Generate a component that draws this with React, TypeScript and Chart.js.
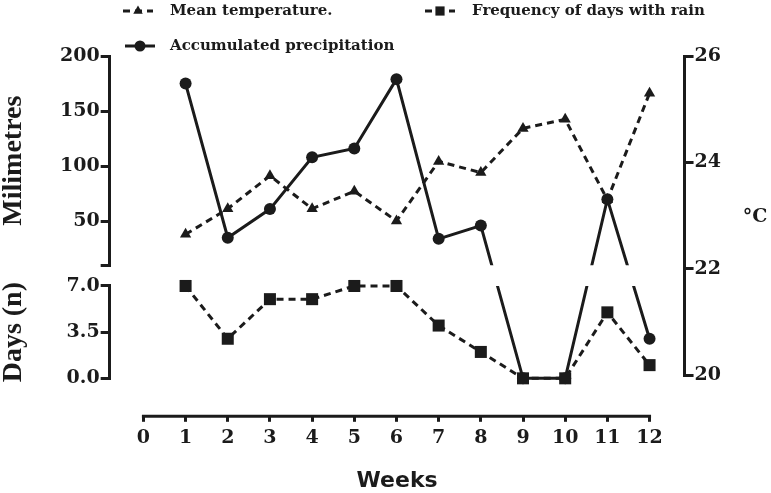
import React, { useEffect, useRef } from 'react';
import { Chart, registerables, LinearScale } from 'chart.js';

// ---------------- data ----------------
const weeks = [1, 2, 3, 4, 5, 6, 7, 8, 9, 10, 11, 12];
const weekTicks = [0, 1, 2, 3, 4, 5, 6, 7, 8, 9, 10, 11, 12];
const meanTemperature = [22.65, 23.13, 23.75, 23.13, 23.46, 22.9, 24.02, 23.81, 24.64, 24.81, 23.3, 25.3];
const rainDays = [7, 3, 6, 6, 7, 7, 4, 2, 0, 0, 5, 1];
const precipitation = [175, 35, 61, 108, 116, 179, 34, 46, 0, 0, 70, 3];
const mmTicks = [10, 50, 100, 150, 200];
const daysTicks = [0, 3.5, 7];
const tempTicks = [20, 22, 24, 26];
const seriesLabels = ['Mean temperature.', 'Frequency of days with rain', 'Accumulated precipitation'];

const INK = '#1b1b1b';

// Broken left axis: lower segment shares the days scale, upper segment the millimetre scale
class BrokenScale extends LinearScale {
  static id = 'brokenLinear';
  static defaults = {};
  getPixelForValue(value: number) {
    const scales = (this as any).chart.scales;
    const upper = scales.yMm;
    const lower = scales.yDays;
    if (value <= lower.max) return lower.getPixelForValue(value);
    if (value >= upper.min) return upper.getPixelForValue(value);
    const p0 = lower.getPixelForValue(lower.max);
    const p1 = upper.getPixelForValue(upper.min);
    return p0 + ((value - lower.max) / (upper.min - lower.max)) * (p1 - p0);
  }
}

Chart.register(...registerables, BrokenScale as any);

const tickFont = { family: '"DejaVu Serif", serif', size: 19, weight: 'bold' as const };
const xTickFont = { family: '"DejaVu Serif", serif', size: 19, weight: 'bold' as const, lineHeight: 1 };
const titleFont = { family: '"Liberation Serif", "Times New Roman", serif', size: 28, weight: 'bold' as const, lineHeight: 1 };

function drawMarker(ctx: CanvasRenderingContext2D, style: string, x: number, y: number, r: number) {
  ctx.beginPath();
  if (style === 'triangle') {
    ctx.moveTo(x, y - r);
    ctx.lineTo(x + r * 0.866, y + r * 0.5);
    ctx.lineTo(x - r * 0.866, y + r * 0.5);
    ctx.closePath();
  } else if (style === 'rect') {
    const s = r * Math.SQRT1_2;
    ctx.rect(x - s, y - s, 2 * s, 2 * s);
  } else {
    ctx.arc(x, y, r, 0, Math.PI * 2);
  }
  ctx.fill();
}

const legendSlots = [
  { x: 123, y: 11, textX: 170 },
  { x: 425, y: 11, textX: 472 },
  { x: 125, y: 46, textX: 170 },
];

const decorPlugin = {
  id: 'decor',
  beforeDatasetDraw(chart: any, args: any) {
    if (chart.data.datasets[args.index]?.yAxisID !== 'yP') return;
    const { ctx, scales } = chart;
    const gapTop = scales.yMm.bottom;
    const gapBottom = scales.yDays.top;
    ctx.save();
    ctx.beginPath();
    ctx.rect(0, 0, chart.width, gapTop);
    ctx.rect(0, gapBottom, chart.width, chart.height - gapBottom);
    ctx.clip();
  },
  afterDatasetDraw(chart: any, args: any) {
    if (chart.data.datasets[args.index]?.yAxisID !== 'yP') return;
    chart.ctx.restore();
  },
  afterDraw(chart: any) {
    const { ctx, scales } = chart;
    const xs = scales.x;
    ctx.save();
    // detached x axis line
    ctx.strokeStyle = INK;
    ctx.lineWidth = 3;
    ctx.beginPath();
    ctx.moveTo(xs.getPixelForValue(weekTicks[0]) - 1.5, xs.top + 1.5);
    ctx.lineTo(xs.getPixelForValue(weekTicks[weekTicks.length - 1]) + 1.5, xs.top + 1.5);
    ctx.stroke();

    // right axis unit
    ctx.fillStyle = INK;
    ctx.font = 'bold 19px "DejaVu Serif", serif';
    ctx.textAlign = 'center';
    ctx.textBaseline = 'middle';
    ctx.fillText('°C', 755, 217);

    // legend
    chart.data.datasets.forEach((ds: any, i: number) => {
      const slot = legendSlots[i];
      ctx.strokeStyle = INK;
      ctx.lineWidth = 3;
      ctx.setLineDash(ds.borderDash || []);
      ctx.beginPath();
      ctx.moveTo(slot.x, slot.y);
      ctx.lineTo(slot.x + 30, slot.y);
      ctx.stroke();
      ctx.setLineDash([]);
      ctx.fillStyle = INK;
      drawMarker(ctx, ds.pointStyle, slot.x + 15, slot.y, ds.pointStyle === 'rect' ? 6.5 : 5.5);
      ctx.font = 'bold 15px "DejaVu Serif", serif';
      ctx.textAlign = 'left';
      ctx.textBaseline = 'middle';
      ctx.fillText(ds.label, slot.textX, slot.y);
    });
    ctx.restore();
  },
};

const toPoints = (vals: number[]) => weeks.map((w, i) => ({ x: w, y: vals[i] }));

const axisGrid = { drawOnChartArea: false, drawTicks: true, tickLength: 9, lineWidth: 3, color: INK };
const axisBorder = { display: true, width: 3, color: INK };

export default function App() {
  const canvasRef = useRef<HTMLCanvasElement | null>(null);

  useEffect(() => {
    if (!canvasRef.current) return;
    const chart = new Chart(canvasRef.current, {
      type: 'line',
      data: {
        datasets: [
          {
            label: seriesLabels[0],
            data: toPoints(meanTemperature),
            yAxisID: 'yTemp',
            borderColor: INK,
            backgroundColor: INK,
            borderWidth: 3,
            borderDash: [7, 5],
            pointStyle: 'triangle',
            pointRadius: 6.5,
            pointBorderWidth: 0,
            clip: false,
            order: 1,
          },
          {
            label: seriesLabels[1],
            data: toPoints(rainDays),
            yAxisID: 'yDays',
            borderColor: INK,
            backgroundColor: INK,
            borderWidth: 3,
            borderDash: [7, 5],
            pointStyle: 'rect',
            pointRadius: 8.5,
            pointBorderWidth: 0,
            clip: false,
            order: 0,
          },
          {
            label: seriesLabels[2],
            data: toPoints(precipitation),
            yAxisID: 'yP',
            borderColor: INK,
            backgroundColor: INK,
            borderWidth: 3,
            pointStyle: 'circle',
            pointRadius: 6,
            pointBorderWidth: 0,
            clip: false,
            order: 2,
          },
        ] as any,
      },
      options: {
        responsive: false,
        animation: false,
        devicePixelRatio: 1,
        events: [],
        layout: { padding: { top: 56, right: 49, bottom: 0, left: 0 } },
        plugins: { legend: { display: false }, tooltip: { enabled: false } },
        scales: {
          x: {
            type: 'linear',
            position: 'bottom',
            min: -0.8,
            max: 12.83,
            border: { display: false },
            grid: { drawOnChartArea: false, drawTicks: true, tickLength: 7, lineWidth: 3, color: INK },
            afterBuildTicks: (s: any) => {
              s.ticks = weekTicks.map((v) => ({ value: v }));
            },
            ticks: { font: xTickFont, color: INK, padding: 7, autoSkip: false, maxRotation: 0, callback: (v: any) => String(v) },
            title: {
              display: true,
              text: 'Weeks',
              color: INK,
              font: { family: '"DejaVu Sans", sans-serif', size: 22, weight: 'bold', lineHeight: 1.1 },
              padding: { top: 14, bottom: 0 },
            },
          },
          yMm: {
            type: 'linear',
            position: 'left',
            stack: 'L',
            stackWeight: 212.3,
            weight: 4,
            min: mmTicks[0],
            max: mmTicks[mmTicks.length - 1],
            afterBuildTicks: (s: any) => {
              s.ticks = mmTicks.map((v) => ({ value: v }));
            },
            ticks: {
              font: tickFont,
              color: INK,
              padding: 1,
              autoSkip: false,
              callback: (v: any) => (v === mmTicks[0] ? '' : String(v)),
            },
            grid: axisGrid,
            border: axisBorder,
            title: { display: true, text: 'Milimetres', color: INK, font: titleFont, padding: { top: 0, bottom: 31 } },
          },
          yGap: { type: 'linear', position: 'left', stack: 'L', stackWeight: 21, weight: 3, display: false },
          yDays: {
            type: 'linear',
            position: 'left',
            stack: 'L',
            stackWeight: 93.7,
            weight: 2,
            min: daysTicks[0],
            max: daysTicks[daysTicks.length - 1],
            afterBuildTicks: (s: any) => {
              s.ticks = daysTicks.map((v) => ({ value: v }));
            },
            ticks: { font: tickFont, color: INK, padding: 1, autoSkip: false, callback: (v: any) => Number(v).toFixed(1) },
            grid: axisGrid,
            border: axisBorder,
            title: { display: true, text: 'Days (n)', color: INK, font: titleFont, padding: { top: 0, bottom: 31 } },
          },
          yBottom: { type: 'linear', position: 'left', stack: 'L', stackWeight: 37, weight: 1, display: false },
          yP: { type: 'brokenLinear', position: 'left', display: false, weight: 0 },
          yTemp: {
            type: 'linear',
            position: 'right',
            stack: 'R',
            stackWeight: 324,
            weight: 1,
            min: tempTicks[0],
            max: tempTicks[tempTicks.length - 1],
            afterBuildTicks: (s: any) => {
              s.ticks = tempTicks.map((v) => ({ value: v }));
            },
            ticks: { font: tickFont, color: INK, padding: 1, autoSkip: false },
            grid: axisGrid,
            border: axisBorder,
          },
          yRB: { type: 'linear', position: 'right', stack: 'R', stackWeight: 40, weight: 2, display: false },
        } as any,
      },
      plugins: [decorPlugin],
    });
    return () => chart.destroy();
  }, []);

  return (
    <div style={{ position: 'fixed', left: 0, top: 0, width: 771, height: 493, background: '#fff' }}>
      <canvas ref={canvasRef} width={771} height={493} style={{ display: 'block' }} />
    </div>
  );
}
